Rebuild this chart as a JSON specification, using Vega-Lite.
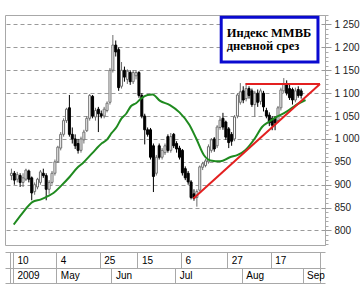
{
  "$schema": "https://vega.github.io/schema/vega-lite/v6.json",
  "width": 320,
  "height": 230,
  "autosize": {"type": "none"},
  "padding": {"left": 5, "top": 15, "right": 39, "bottom": 41},
  "background": "white",
  "config": {
    "view": {"stroke": "#a8a8a8"},
    "axis": {"labelFont": "Liberation Sans", "labelFontSize": 10, "labelColor": "#000", "title": null}
  },
  "datasets": {
    "candles": [
      {"k":0,"o":920,"h":935,"l":910,"c":925},{"k":1,"o":925,"h":930,"l":900,"c":910},{"k":2,"o":912,"h":928,"l":905,"c":922},
      {"k":3,"o":920,"h":925,"l":895,"c":905},{"k":4,"o":905,"h":925,"l":895,"c":915},{"k":5,"o":912,"h":935,"l":908,"c":932},
      {"k":6,"o":930,"h":933,"l":905,"c":912},{"k":7,"o":915,"h":918,"l":866,"c":882},{"k":8,"o":885,"h":905,"l":878,"c":900},
      {"k":9,"o":895,"h":915,"l":890,"c":912},{"k":10,"o":905,"h":932,"l":900,"c":928},{"k":11,"o":925,"h":935,"l":915,"c":920},
      {"k":12,"o":920,"h":925,"l":866,"c":890},{"k":13,"o":890,"h":910,"l":880,"c":905},{"k":14,"o":905,"h":930,"l":900,"c":925},
      {"k":15,"o":925,"h":955,"l":920,"c":950},{"k":16,"o":950,"h":985,"l":948,"c":982},{"k":17,"o":980,"h":1015,"l":975,"c":1010},
      {"k":18,"o":1010,"h":1045,"l":1005,"c":1040},{"k":19,"o":1040,"h":1068,"l":1035,"c":1065},{"k":20,"o":1068,"h":1096,"l":1005,"c":1010},
      {"k":21,"o":1010,"h":1025,"l":990,"c":1000},{"k":22,"o":1000,"h":1010,"l":978,"c":985},{"k":23,"o":990,"h":1000,"l":968,"c":975},
      {"k":24,"o":975,"h":1005,"l":970,"c":1000},{"k":25,"o":998,"h":1020,"l":990,"c":1015},{"k":26,"o":1018,"h":1050,"l":1015,"c":1045},
      {"k":27,"o":1045,"h":1098,"l":1040,"c":1095},{"k":28,"o":1093,"h":1096,"l":1045,"c":1050},{"k":29,"o":1048,"h":1068,"l":1040,"c":1062},
      {"k":30,"o":1065,"h":1070,"l":1015,"c":1055},{"k":31,"o":1055,"h":1062,"l":1045,"c":1050},{"k":32,"o":1050,"h":1070,"l":1045,"c":1065},
      {"k":33,"o":1062,"h":1082,"l":1058,"c":1078},{"k":34,"o":1080,"h":1155,"l":1075,"c":1150},{"k":35,"o":1150,"h":1227,"l":1145,"c":1205},
      {"k":36,"o":1205,"h":1215,"l":1180,"c":1190},{"k":37,"o":1195,"h":1200,"l":1105,"c":1112},{"k":38,"o":1115,"h":1168,"l":1110,"c":1150},
      {"k":39,"o":1150,"h":1158,"l":1125,"c":1135},{"k":40,"o":1130,"h":1152,"l":1120,"c":1148},{"k":41,"o":1145,"h":1150,"l":1118,"c":1125},
      {"k":42,"o":1125,"h":1150,"l":1120,"c":1145},{"k":43,"o":1138,"h":1150,"l":1130,"c":1145},{"k":44,"o":1145,"h":1148,"l":1090,"c":1095},
      {"k":45,"o":1095,"h":1100,"l":1045,"c":1050},{"k":46,"o":1050,"h":1055,"l":988,"c":1020},{"k":47,"o":1020,"h":1025,"l":1005,"c":1010},
      {"k":48,"o":1020,"h":1024,"l":955,"c":960},{"k":49,"o":985,"h":990,"l":884,"c":918},{"k":50,"o":925,"h":965,"l":920,"c":960},
      {"k":51,"o":985,"h":990,"l":955,"c":960},{"k":52,"o":960,"h":980,"l":955,"c":975},{"k":53,"o":970,"h":990,"l":965,"c":985},
      {"k":54,"o":1005,"h":1010,"l":970,"c":975},{"k":55,"o":975,"h":1013,"l":970,"c":1005},{"k":56,"o":1010,"h":1013,"l":980,"c":985},
      {"k":57,"o":990,"h":995,"l":970,"c":978},{"k":58,"o":980,"h":985,"l":955,"c":960},{"k":59,"o":975,"h":978,"l":920,"c":926},
      {"k":60,"o":935,"h":940,"l":910,"c":915},{"k":61,"o":925,"h":930,"l":900,"c":906},{"k":62,"o":906,"h":910,"l":868,"c":872},
      {"k":63,"o":880,"h":890,"l":865,"c":870},{"k":64,"o":872,"h":890,"l":852,"c":885},{"k":65,"o":888,"h":942,"l":885,"c":939},
      {"k":66,"o":938,"h":950,"l":932,"c":946},{"k":67,"o":942,"h":956,"l":938,"c":952},{"k":68,"o":950,"h":988,"l":946,"c":983},
      {"k":69,"o":975,"h":1002,"l":970,"c":998},{"k":70,"o":1000,"h":1004,"l":972,"c":978},{"k":71,"o":985,"h":1030,"l":980,"c":1026},
      {"k":72,"o":1025,"h":1048,"l":1020,"c":1041},{"k":73,"o":1045,"h":1057,"l":1020,"c":1026},{"k":74,"o":1037,"h":1040,"l":998,"c":1004},
      {"k":75,"o":1022,"h":1026,"l":980,"c":992},{"k":76,"o":1010,"h":1015,"l":985,"c":995},{"k":77,"o":1000,"h":1052,"l":995,"c":1048},
      {"k":78,"o":1050,"h":1100,"l":1045,"c":1096},{"k":79,"o":1080,"h":1122,"l":1075,"c":1103},{"k":80,"o":1105,"h":1115,"l":1078,"c":1085},
      {"k":81,"o":1088,"h":1122,"l":1082,"c":1110},{"k":82,"o":1110,"h":1115,"l":1088,"c":1095},{"k":83,"o":1105,"h":1110,"l":1070,"c":1075},
      {"k":84,"o":1075,"h":1105,"l":1048,"c":1100},{"k":85,"o":1100,"h":1108,"l":1070,"c":1080},{"k":86,"o":1082,"h":1110,"l":1075,"c":1105},
      {"k":87,"o":1100,"h":1105,"l":1060,"c":1070},{"k":88,"o":1062,"h":1068,"l":1045,"c":1050},{"k":89,"o":1052,"h":1058,"l":1028,"c":1035},
      {"k":90,"o":1045,"h":1050,"l":1019,"c":1030},{"k":91,"o":1045,"h":1050,"l":1019,"c":1035},{"k":92,"o":1040,"h":1072,"l":1035,"c":1068},
      {"k":93,"o":1068,"h":1112,"l":1062,"c":1107},{"k":94,"o":1105,"h":1133,"l":1100,"c":1120},{"k":95,"o":1120,"h":1128,"l":1095,"c":1100},
      {"k":96,"o":1110,"h":1118,"l":1085,"c":1090},{"k":97,"o":1108,"h":1112,"l":1075,"c":1085},{"k":98,"o":1085,"h":1112,"l":1080,"c":1105},
      {"k":99,"o":1108,"h":1115,"l":1090,"c":1095},{"k":100,"o":1105,"h":1110,"l":1088,"c":1095}
    ],
    "ma": [
      {"t":0.8,"v":813},{"t":3.8,"v":838},{"t":7.2,"v":862},{"t":10.2,"v":868},{"t":12.9,"v":876},{"t":14.5,"v":882},
      {"t":17.2,"v":898},{"t":20.2,"v":918},{"t":22.9,"v":938},{"t":24.6,"v":947},{"t":27.9,"v":969},{"t":31.3,"v":991},
      {"t":32.9,"v":998},{"t":34.6,"v":1013},{"t":36.3,"v":1026},{"t":38,"v":1045},{"t":39.6,"v":1055},{"t":41.3,"v":1072},
      {"t":43,"v":1078},{"t":44.7,"v":1088},{"t":47,"v":1096},{"t":48.7,"v":1097},{"t":51.3,"v":1083},{"t":54.7,"v":1074},
      {"t":58,"v":1058},{"t":61.4,"v":1031},{"t":63.7,"v":1002},{"t":66.4,"v":965},{"t":68.7,"v":953},{"t":72.1,"v":951},
      {"t":75.4,"v":960},{"t":78.1,"v":965},{"t":80.8,"v":976},{"t":84.1,"v":1002},{"t":86.5,"v":1026},{"t":88.8,"v":1037},
      {"t":91.5,"v":1048},{"t":94.8,"v":1059},{"t":98.2,"v":1074},{"t":101.5,"v":1085}
    ],
    "tri": [
      {"seg":"support","t":62.8,"v":870},{"seg":"support","t":106.5,"v":1120},
      {"seg":"resistance","t":80.8,"v":1120},{"seg":"resistance","t":106.5,"v":1120}
    ]
  },
  "resolve": {"axis": {"x": "independent", "y": "independent"}},
  "layer": [
    {
      "data": {"name": "candles"},
      "mark": {"type": "rule", "strokeWidth": 1},
      "encoding": {
        "x": {
          "field": "k", "type": "quantitative",
          "scale": {"domain": [-0.5, 106.5], "nice": false, "zero": false},
          "axis": {
            "orient": "bottom", "offset": 7,
            "values": [-0.5, 0.5, 15.5, 30.5, 43.5, 58.5, 74.5, 89.5, 106.5],
            "labelExpr": "datum.value==0.5?'10':datum.value==15.5?'4':datum.value==30.5?'25':datum.value==43.5?'15':datum.value==58.5?'6':datum.value==74.5?'27':datum.value==89.5?'17':''",
            "tickSize": 16, "tickColor": "#a8a8a8", "domainColor": "#a8a8a8",
            "labelAlign": "left", "labelBaseline": "middle", "labelPadding": -8, "labelOffset": 4,
            "labelFlush": false, "labelOverlap": false, "labelBound": false, "grid": false, "title": null
          }
        },
        "y": {
          "field": "l", "type": "quantitative",
          "scale": {"domain": [768.3, 1270.7], "nice": false, "zero": false},
          "axis": {
            "orient": "right",
            "values": [770,780,790,800,810,820,830,840,850,860,870,880,890,900,910,920,930,940,950,960,970,980,990,1000,1010,1020,1030,1040,1050,1060,1070,1080,1090,1100,1110,1120,1130,1140,1150,1160,1170,1180,1190,1200,1210,1220,1230,1240,1250,1260,1270],
            "labels": false,
            "tickSize": 3,
            "tickColor": "#aaa",
            "grid": false,
            "domain": true, "domainColor": "#a8a8a8", "title": null
          }
        },
        "y2": {"field": "h"},
        "color": {"condition": {"test": "datum.c >= datum.o", "value": "#6e6e6e"}, "value": "#000000"}
      }
    },
    {
      "data": {"name": "candles"},
      "mark": {"type": "bar", "size": 2, "strokeWidth": 1},
      "encoding": {
        "x": {"field": "k", "type": "quantitative", "axis": null},
        "y": {
          "field": "o", "type": "quantitative",
          "axis": {
            "orient": "right",
            "values": [800, 850, 900, 950, 1000, 1050, 1100, 1150, 1200, 1250],
            "labelExpr": "replace(format(datum.value, ','), ',', ' ')",
            "labelPadding": 3, "labelOverlap": false, "labelColor": "#222",
            "tickSize": 6, "tickColor": "#999", "domain": false,
            "grid": true, "gridDash": [4, 3], "gridColor": "#9a9a9a", "gridWidth": 1, "title": null
          }
        },
        "y2": {"field": "c"},
        "fill": {"condition": {"test": "datum.c >= datum.o", "value": "#ffffff"}, "value": "#000000"},
        "stroke": {"condition": {"test": "datum.c >= datum.o", "value": "#6e6e6e"}, "value": "#000000"}
      }
    },
    {
      "data": {"name": "ma"},
      "mark": {"type": "line", "color": "#1f8a1f", "strokeWidth": 2, "interpolate": "monotone"},
      "encoding": {
        "x": {
          "field": "t", "type": "quantitative",
          "axis": {
            "orient": "bottom", "offset": 23,
            "values": [-0.5, 0.5, 15.5, 34.5, 56.5, 79.5, 100.5, 106.5],
            "labelExpr": "datum.value==0.5?'2009':datum.value==15.5?'May':datum.value==34.5?'Jun':datum.value==56.5?'Jul':datum.value==79.5?'Aug':datum.value==100.5?'Sep':''",
            "tickSize": 15, "tickColor": "#a8a8a8", "domainColor": "#a8a8a8",
            "labelAlign": "left", "labelBaseline": "middle", "labelPadding": -7.5, "labelOffset": 4,
            "labelFlush": false, "labelOverlap": false, "labelBound": false, "grid": false, "title": null
          }
        },
        "y": {"field": "v", "type": "quantitative", "axis": null}
      }
    },
    {
      "data": {"name": "tri"},
      "mark": {"type": "line", "color": "#e32020", "strokeWidth": 2},
      "encoding": {
        "x": {
          "field": "t", "type": "quantitative",
          "axis": {"orient": "bottom", "offset": 38, "ticks": false, "labels": false, "grid": false, "domainColor": "#a8a8a8", "title": null}
        },
        "y": {"field": "v", "type": "quantitative", "axis": null},
        "detail": {"field": "seg"}
      }
    },
    {
      "data": {"values": [{}]},
      "mark": {"type": "rect", "fill": "#ffffff", "stroke": "#0a0ad0", "strokeWidth": 3},
      "encoding": {
        "x": {"datum": 72.4, "type": "quantitative", "axis": null},
        "x2": {"datum": 105.8},
        "y": {"datum": 1266, "type": "quantitative", "axis": null},
        "y2": {"datum": 1168}
      }
    },
    {
      "data": {"values": [{}]},
      "mark": {"type": "text", "text": ["Индекс ММВБ", "дневной срез"], "font": "Liberation Serif, Times New Roman, serif", "fontWeight": "bold", "fontSize": 12.5, "lineHeight": 12.5, "align": "left", "baseline": "alphabetic", "color": "#000"},
      "encoding": {
        "x": {"datum": 74.3, "type": "quantitative", "axis": null},
        "y": {"datum": 1222.5, "type": "quantitative", "axis": null}
      }
    }
  ]
}
